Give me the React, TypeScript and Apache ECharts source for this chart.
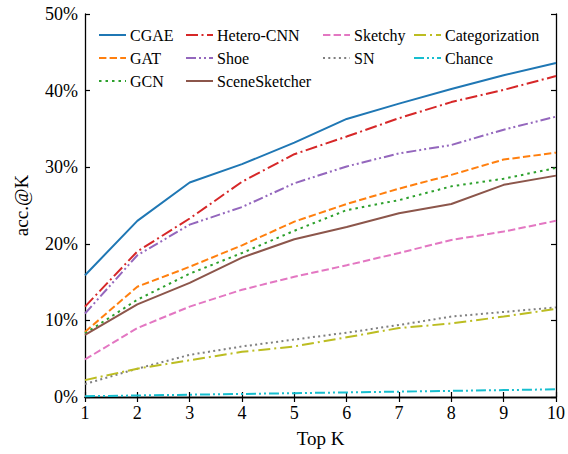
import React, { useEffect, useRef } from "react";
import * as echarts from "echarts";

const topK = [1, 2, 3, 4, 5, 6, 7, 8, 9, 10];
const yTicks = [0, 10, 20, 30, 40, 50];

const cgae = [15.9, 23.0, 28.0, 30.4, 33.2, 36.3, 38.3, 40.2, 42.0, 43.6];
const heteroCnn = [11.8, 19.0, 23.3, 28.1, 31.7, 34.0, 36.4, 38.5, 40.1, 41.9];
const shoe = [10.9, 18.5, 22.5, 24.8, 27.9, 30.1, 31.8, 32.9, 34.9, 36.6];
const gat = [8.5, 14.4, 17.0, 19.8, 22.9, 25.2, 27.2, 29.0, 31.0, 31.9];
const gcn = [8.3, 12.7, 16.1, 18.8, 21.7, 24.4, 25.7, 27.5, 28.5, 29.9];
const sceneSketcher = [8.1, 12.1, 14.9, 18.2, 20.6, 22.2, 24.0, 25.2, 27.7, 28.9];
const sketchy = [4.9, 9.0, 11.8, 14.0, 15.7, 17.2, 18.8, 20.5, 21.6, 23.0];
const sn = [1.7, 3.7, 5.5, 6.6, 7.5, 8.4, 9.4, 10.5, 11.1, 11.7];
const categorization = [2.2, 3.7, 4.8, 5.9, 6.6, 7.8, 9.0, 9.6, 10.5, 11.5];
const chance = [0.1, 0.2, 0.3, 0.4, 0.5, 0.6, 0.7, 0.8, 0.9, 1.0];

const FONT = "'Liberation Serif', 'Times New Roman', serif";

const seriesDefs = [
  { name: "CGAE", data: cgae, color: "#1f77b4", type: "solid" as any },
  { name: "GAT", data: gat, color: "#ff7f0e", type: [7.4, 3.2] },
  { name: "GCN", data: gcn, color: "#2ca02c", type: [2.5, 4] },
  { name: "Hetero-CNN", data: heteroCnn, color: "#d62728", type: [12, 3.5, 2, 3.5] },
  { name: "Shoe", data: shoe, color: "#9467bd", type: [10, 3, 2, 3, 2, 3] },
  { name: "SceneSketcher", data: sceneSketcher, color: "#8c564b", type: "solid" as any },
  { name: "Sketchy", data: sketchy, color: "#e377c2", type: [7.4, 3.2] },
  { name: "SN", data: sn, color: "#7f7f7f", type: [2, 3.3] },
  { name: "Categorization", data: categorization, color: "#bcbd22", type: [12, 4, 2, 4] },
  { name: "Chance", data: chance, color: "#17becf", type: [10, 3, 2, 3, 2, 3] },
];

const legendCols = [
  { left: 98, names: ["CGAE", "GAT", "GCN"] },
  { left: 185, names: ["Hetero-CNN", "Shoe", "SceneSketcher"] },
  { left: 322, names: ["Sketchy", "SN"] },
  { left: 413, names: ["Categorization", "Chance"] },
];

export default function App() {
  const ref = useRef<HTMLDivElement>(null);
  useEffect(() => {
    if (!ref.current) return;
    const chart = echarts.init(ref.current, null, { renderer: "svg" });
    const axisLine = { show: true, lineStyle: { color: "#000", width: 1.3 } };
    const tick = { show: true, inside: true, length: 5, lineStyle: { color: "#000", width: 1.2 } };
    chart.setOption({
      animation: false,
      backgroundColor: "#fff",
      textStyle: { fontFamily: FONT },
      grid: { left: 85, right: 12, top: 14, bottom: 57, containLabel: false },
      legend: legendCols.map((c) => ({
        orient: "vertical",
        left: c.left,
        top: 27,
        padding: 0,
        itemWidth: 27,
        itemHeight: 14,
        itemGap: 7,
        itemStyle: { opacity: 0 },
        data: c.names,
        textStyle: { fontFamily: FONT, fontSize: 16, color: "#000", padding: [0, 0, 0, -1] },
      })),
      xAxis: [
        {
          type: "value",
          min: 1,
          max: 10,
          interval: 1,
          position: "bottom",
          name: "Top K",
          nameLocation: "middle",
          nameGap: 32,
          nameTextStyle: { fontFamily: FONT, fontSize: 19, color: "#000" },
          axisLine,
          axisTick: tick,
          splitLine: { show: false },
          axisLabel: { fontFamily: FONT, fontSize: 18, color: "#000", margin: 7 },
        },
        {
          type: "value",
          min: 1,
          max: 10,
          interval: 1,
          position: "top",
          axisLine,
          axisTick: tick,
          splitLine: { show: false },
          axisLabel: { show: false },
        },
      ],
      yAxis: [
        {
          type: "value",
          min: yTicks[0],
          max: yTicks[yTicks.length - 1],
          interval: 10,
          position: "left",
          name: "acc.@K",
          nameLocation: "middle",
          nameGap: 54,
          nameTextStyle: { fontFamily: FONT, fontSize: 19, color: "#000" },
          axisLine,
          axisTick: tick,
          splitLine: { show: false },
          axisLabel: { fontFamily: FONT, fontSize: 18, color: "#000", margin: 7, formatter: "{value}%" },
        },
        {
          type: "value",
          min: yTicks[0],
          max: yTicks[yTicks.length - 1],
          interval: 10,
          position: "right",
          axisLine,
          axisTick: tick,
          splitLine: { show: false },
          axisLabel: { show: false },
        },
      ],
      series: seriesDefs.map((s) => ({
        name: s.name,
        type: "line",
        symbol: "none",
        showSymbol: false,
        color: s.color,
        lineStyle: { color: s.color, width: 2, type: s.type },
        data: topK.map((k, i) => [k, s.data[i]]),
      })),
    });
    return () => chart.dispose();
  }, []);
  return (
    <div
      ref={ref}
      style={{ position: "fixed", left: 0, top: 0, width: 568, height: 454 }}
    />
  );
}
